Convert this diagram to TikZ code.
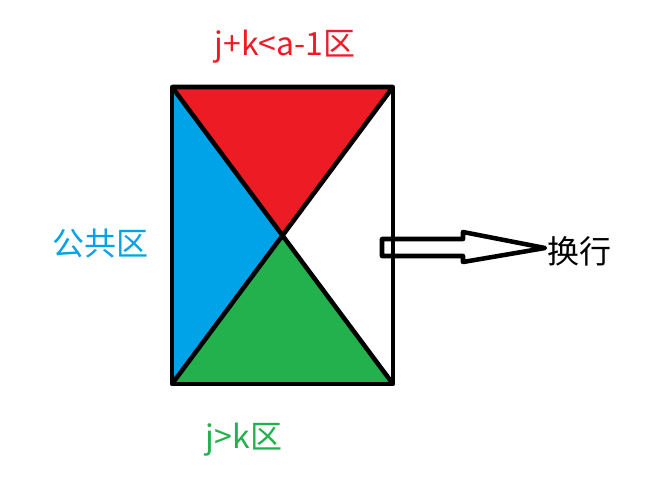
\documentclass[tikz,border=0pt]{standalone}
\usepackage{fontspec}
\newfontfamily\cjk{Noto Sans CJK SC}
\definecolor{cred}{RGB}{237,28,36}
\definecolor{cblue}{RGB}{0,162,232}
\definecolor{cgreen}{RGB}{34,177,76}
\begin{document}
\begin{tikzpicture}[x=0.75pt,y=-0.75pt,line join=round,
  edge/.style={line width=3.4pt},
  lbl/.style={font=\cjk\fontsize{24}{24}\selectfont,inner sep=0pt}]
\useasboundingbox (0,0) rectangle (652,480);
\coordinate (tl) at (172,87); \coordinate (tr) at (393,87);
\coordinate (bl) at (172,384); \coordinate (br) at (393,384);
\coordinate (c) at (284,236);
\fill[cred] (tl) -- (tr) -- (c) -- cycle;
\fill[cblue] (tl) -- (bl) -- (c) -- cycle;
\fill[cgreen] (bl) -- (br) -- (c) -- cycle;
\draw[edge] (tl) rectangle (br);
\draw[edge] (tl) -- (br) (tr) -- (bl) (tl) -- (tr);
\draw[edge] (382,239) -- (463,239) -- (463,232) -- (545,248) -- (463,262) -- (463,256) -- (382,256) -- cycle;
\node[lbl,text=cred] (t1) at (285,47) {j+k<a-1区};
\node[lbl,text=cblue] (t2) at (100,243) {公共区};
\node[lbl,text=cgreen] (t3) at (244,440) {j>k区};
\node[lbl,anchor=west] (t4) at (547,251) {换行};
\end{tikzpicture}
\end{document}
